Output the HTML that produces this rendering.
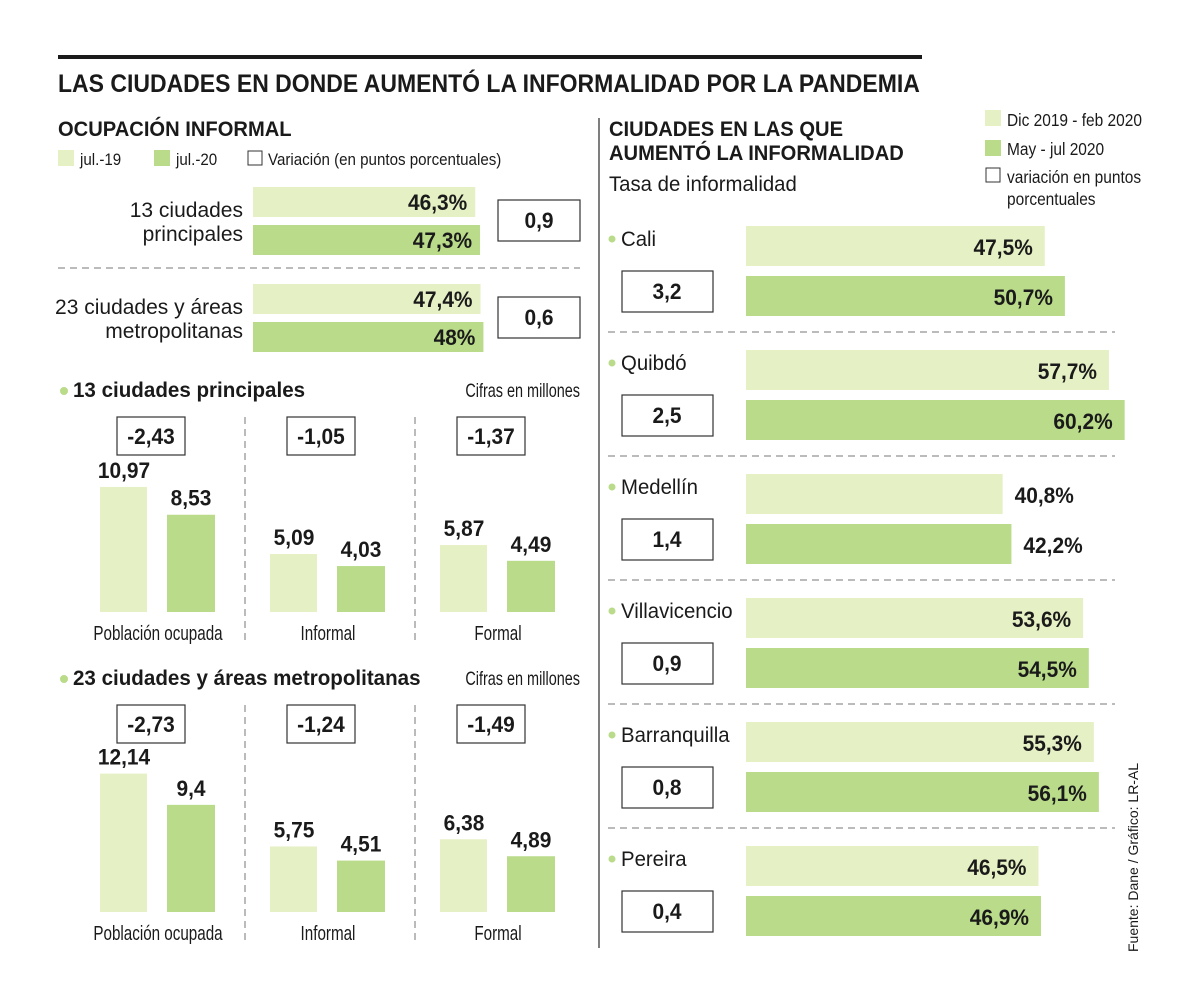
<!DOCTYPE html>
<html><head><meta charset="utf-8"><style>
body{margin:0;background:#fff}
svg{display:block}
text{font-family:"Liberation Sans Narrow","Liberation Sans",sans-serif;fill:#1a1a1a}
.b{font-weight:bold}
</style></head><body>
<svg id="s" width="1200" height="1003" viewBox="0 0 1200 1003" xmlns="http://www.w3.org/2000/svg">
<rect x="58" y="55" width="864" height="4" fill="#1a1a1a"/>
<text x="58" y="92" class="b" font-size="25" data-sx="0.92">LAS CIUDADES EN DONDE AUMENTÓ LA INFORMALIDAD POR LA PANDEMIA</text>
<line x1="599" y1="118" x2="599" y2="948" stroke="#555" stroke-width="1.5"/>
<text x="58" y="136" class="b" font-size="21" data-sx="0.96">OCUPACIÓN INFORMAL</text>
<g>
<rect x="58" y="150" width="16" height="16" fill="#e5f0c4"/><text x="80" y="165" font-size="17" data-sx="0.89">jul.-19</text>
<rect x="154" y="150" width="16" height="16" fill="#b9db8a"/><text x="176" y="165" font-size="17" data-sx="0.89">jul.-20</text>
<rect x="248" y="151" width="14" height="14" fill="#fff" stroke="#333"/><text x="268" y="165" font-size="17" data-sx="0.89">Variación (en puntos porcentuales)</text>
</g>
<text x="609" y="136" class="b" font-size="21" data-sx="0.96">CIUDADES EN LAS QUE</text>
<text x="609" y="160" class="b" font-size="21" data-sx="0.96">AUMENTÓ LA INFORMALIDAD</text>
<text x="609" y="191" font-size="21" data-sx="0.97">Tasa de informalidad</text>
<g>
<rect x="985" y="110" width="16" height="16" fill="#e5f0c4"/><text x="1007" y="126" font-size="18" data-sx="0.86">Dic 2019 - feb 2020</text>
<rect x="985" y="140" width="16" height="16" fill="#b9db8a"/><text x="1007" y="155" font-size="18" data-sx="0.86">May - jul 2020</text>
<rect x="986" y="168" width="14" height="14" fill="#fff" stroke="#333"/><text x="1007" y="183" font-size="18" data-sx="0.86">variación en puntos</text>
<text x="1007" y="205" font-size="18" data-sx="0.86">porcentuales</text>
</g>
<text transform="translate(1138,952) rotate(-90)" font-size="14" fill="#444" data-norescale="1">Fuente: Dane / Gráfico: LR-AL</text>
</svg>
<script>
const LIGHT='#e5f0c4', DARK='#b9db8a';
// top-left horizontal bars
const topCats=['13 ciudades|principales','23 ciudades y áreas|metropolitanas'];
const topJul19=[46.3,47.4];
const topJul20=[47.3,48];
const topVar=['0,9','0,6'];
// column charts
const colCats=['Población ocupada','Informal','Formal'];
const col13a=[10.97,5.09,5.87];
const col13b=[8.53,4.03,4.49];
const col13var=['-2,43','-1,05','-1,37'];
const col23a=[12.14,5.75,6.38];
const col23b=[9.4,4.51,4.89];
const col23var=['-2,73','-1,24','-1,49'];
// right chart
const cities=['Cali','Quibdó','Medellín','Villavicencio','Barranquilla','Pereira'];
const ratePrev=[47.5,57.7,40.8,53.6,55.3,46.5];
const rateNow=[50.7,60.2,42.2,54.5,56.1,46.9];
const rateVar=['3,2','2,5','1,4','0,9','0,8','0,4'];

const svg=document.getElementById('s');
const NS='http://www.w3.org/2000/svg';
function el(t,a,txt){const e=document.createElementNS(NS,t);for(const k in a)e.setAttribute(k,a[k]);if(txt!==undefined)e.textContent=txt;svg.appendChild(e);return e;}
const fmt=v=>String(v).replace('.',',');

// top-left
const xTop=v=>v*4.8;
topCats.forEach((c,i)=>{
  const y0=187+i*97;
  let e=el('rect',{x:253,y:y0,width:xTop(topJul19[i]),height:30,fill:LIGHT});
  
  e=el('rect',{x:253,y:y0+38,width:xTop(topJul20[i]),height:30,fill:DARK});
  
  e=el('text',{x:253+xTop(topJul19[i])-8,y:y0+23,'text-anchor':'end','font-size':22,class:'b'},fmt(topJul19[i])+'%');
  
  e=el('text',{x:253+xTop(topJul20[i])-8,y:y0+61,'text-anchor':'end','font-size':22,class:'b'},fmt(topJul20[i])+'%');
  
  const p=c.split('|');
  e=el('text',{x:243,y:y0+30,'text-anchor':'end','font-size':21,'data-sx':'1'},p[0]);
  
  e=el('text',{x:243,y:y0+54,'text-anchor':'end','font-size':21,'data-sx':'1'},p[1]);
  
  e=el('rect',{x:498,y:y0+13,width:82,height:41,fill:'#fff',stroke:'#333','stroke-width':1.2});
  
  e=el('text',{x:539,y:y0+41,'text-anchor':'middle','font-size':22,class:'b'},topVar[i]);
  
});
let sep=el('line',{x1:58,y1:268,x2:580,y2:268,stroke:'#777','stroke-dasharray':'7 5'});


// column charts
function columns(title,a,b,vr,yHead,base){
  let e=el('circle',{cx:64,cy:yHead-6,r:4,fill:DARK});
  
  e=el('text',{x:73,y:yHead,'font-size':21,class:'b','data-sx':'0.98'},title);
  
  e=el('text',{x:580,y:yHead,'text-anchor':'end','font-size':19,'data-sx':'0.76'},'Cifras en millones');
  
  const yv=v=>v*11.4;
  [245,415].forEach(x=>{e=el('line',{x1:x,y1:yHead+20,x2:x,y2:base+30,stroke:'#777','stroke-dasharray':'7 5'});
    });
  colCats.forEach((c,i)=>{
    const gx=100+i*170;
    e=el('rect',{x:gx,y:base-yv(a[i]),width:47,height:yv(a[i]),fill:LIGHT});
    
    e=el('rect',{x:gx+67,y:base-yv(b[i]),width:48,height:yv(b[i]),fill:DARK});
    
    e=el('text',{x:gx+24,y:base-yv(a[i])-9,'text-anchor':'middle','font-size':22,class:'b'},fmt(a[i]));
    
    e=el('text',{x:gx+91,y:base-yv(b[i])-9,'text-anchor':'middle','font-size':22,class:'b'},fmt(b[i]));
    
    e=el('rect',{x:gx+17,y:yHead+20,width:68,height:38,fill:'#fff',stroke:'#333','stroke-width':1.2});
    
    e=el('text',{x:gx+51,y:yHead+47,'text-anchor':'middle','font-size':22,class:'b'},vr[i]);
    
    e=el('text',{x:gx+58,y:base+28,'text-anchor':'middle','font-size':20,'data-sx':'0.76'},c);
    
  });
}
columns('13 ciudades principales',col13a,col13b,col13var,397,612);
columns('23 ciudades y áreas metropolitanas',col23a,col23b,col23var,685,912);

// right chart
const xR=v=>v*6.29;
cities.forEach((c,i)=>{
  const y0=226+i*124;
  let e=el('rect',{x:746,y:y0,width:xR(ratePrev[i]),height:40,fill:LIGHT});
  
  e=el('rect',{x:746,y:y0+50,width:xR(rateNow[i]),height:40,fill:DARK});
  
  [[ratePrev[i],y0+29],[rateNow[i],y0+79]].forEach(([v,ty])=>{
    const out=v<45;
    const t=el('text',{x:out?746+xR(v)+12:746+xR(v)-12,y:ty,'text-anchor':out?'start':'end','font-size':22,class:'b'},fmt(v)+'%');
    
  });
  e=el('circle',{cx:612,cy:y0+13,r:3.5,fill:DARK});
  
  e=el('text',{x:621,y:y0+20,'font-size':21,'data-sx':'0.97'},c);
  
  e=el('rect',{x:622,y:y0+45,width:91,height:41,fill:'#fff',stroke:'#333','stroke-width':1.2});
  
  e=el('text',{x:667,y:y0+73,'text-anchor':'middle','font-size':22,class:'b'},rateVar[i]);
  
  if(i<cities.length-1){
    e=el('line',{x1:608,y1:y0+106,x2:1115,y2:y0+106,stroke:'#777','stroke-dasharray':'7 5'});
    
  }
});
// condense text horizontally around its anchor
svg.querySelectorAll('text').forEach(t=>{
  if(t.getAttribute('data-norescale'))return;
  const def=t.classList.contains('b')?'0.95':'0.86';
  const sx=parseFloat(t.getAttribute('data-sx')||def);
  const x=parseFloat(t.getAttribute('x')),y=parseFloat(t.getAttribute('y'));
  t.setAttribute('transform','translate('+x+','+y+') scale('+sx+',1) translate('+(-x)+','+(-y)+')');
});
</script>
</body></html>
